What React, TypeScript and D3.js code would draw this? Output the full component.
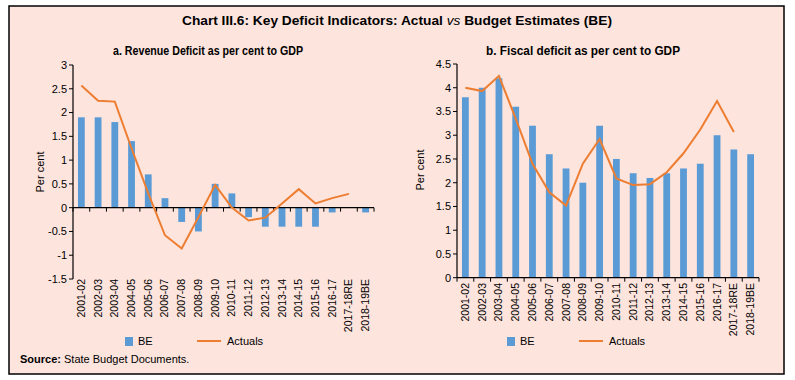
import React from "react";
import * as d3 from "d3";

const categories = [
  "2001-02", "2002-03", "2003-04", "2004-05", "2005-06", "2006-07", "2007-08", "2008-09", "2009-10",
  "2010-11", "2011-12", "2012-13", "2013-14", "2014-15", "2015-16", "2016-17", "2017-18RE", "2018-19BE",
];

const revenueBE: (number | null)[] = [1.9, 1.9, 1.8, 1.4, 0.7, 0.2, -0.3, -0.5, 0.5, 0.3, -0.2, -0.4, -0.4, -0.4, -0.4, -0.1, null, -0.1];
const revenueActual: (number | null)[] = [2.57, 2.25, 2.23, 1.25, 0.3, -0.58, -0.86, -0.2, 0.48, 0.0, -0.27, -0.21, 0.09, 0.39, 0.09, 0.2, 0.29, null];

const fiscalBE: (number | null)[] = [3.8, 4.0, 4.2, 3.6, 3.2, 2.6, 2.3, 2.0, 3.2, 2.5, 2.2, 2.1, 2.2, 2.3, 2.4, 3.0, 2.7, 2.6];
const fiscalActual: (number | null)[] = [4.0, 3.93, 4.25, 3.35, 2.4, 1.8, 1.52, 2.4, 2.92, 2.09, 1.95, 1.97, 2.22, 2.62, 3.12, 3.72, 3.07, null];

const revenueTicks = [3, 2.5, 2, 1.5, 1, 0.5, 0, -0.5, -1, -1.5];
const fiscalTicks = [4.5, 4, 3.5, 3, 2.5, 2, 1.5, 1, 0.5, 0];

const FONT = "'Liberation Sans', Arial, Helvetica, sans-serif";
const BAR = "#5b9bd5";
const LINE = "#ed7d31";
const BG = "#fde4dd";

type PanelProps = {
  x0: number; x1: number; yTop: number; yBot: number;
  domain: [number, number];
  ticks: number[];
  be: (number | null)[];
  actual: (number | null)[];
  labelTop: number;
  yLabelX: number; yLabelY: number;
  title: string; titleX: number; titleW: number;
  legendX: number;
};

function Panel(p: PanelProps) {
  const x = d3.scaleBand<string>().domain(categories).range([p.x0, p.x1]).paddingInner(0).paddingOuter(0);
  const y = d3.scaleLinear().domain(p.domain).range([p.yBot, p.yTop]);
  const bw = 6.8;
  const zeroY = y(0);
  const line = d3.line<[number, number | null]>()
    .defined((d) => d[1] !== null)
    .x((d) => d[0])
    .y((d) => y(d[1] as number));
  const pts: [number, number | null][] = categories.map((c, i) => [(x(c) as number) + x.bandwidth() / 2, p.actual[i]]);
  const boundaries = d3.range(categories.length + 1).map((i) => p.x0 + i * x.bandwidth());
  return (
    <g>
      <text x={p.titleX} y={55} textAnchor="middle" fontFamily={FONT} fontWeight="bold" fontSize={12}
        textLength={p.titleW} lengthAdjust="spacingAndGlyphs">{p.title}</text>
      {categories.map((c, i) => {
        const v = p.be[i];
        if (v === null) return null;
        const yy = y(Math.max(0, v));
        const h = Math.abs(y(v) - zeroY);
        return <rect key={c} x={(x(c) as number) + x.bandwidth() / 2 - bw / 2} y={yy} width={bw} height={h} fill={BAR} />;
      })}
      <line x1={p.x0} x2={p.x0} y1={p.yTop} y2={p.yBot} stroke="#000" strokeWidth={1.2} />
      {p.ticks.map((t) => (
        <g key={t}>
          <line x1={p.x0 - 4} x2={p.x0} y1={y(t)} y2={y(t)} stroke="#000" strokeWidth={1} />
          <text x={p.x0 - 6} y={y(t)} dy="0.35em" textAnchor="end" fontFamily={FONT} fontSize={11}>{String(t).replace("-", "-")}</text>
        </g>
      ))}
      <line x1={p.x0} x2={p.x1} y1={zeroY} y2={zeroY} stroke="#000" strokeWidth={1.2} />
      {boundaries.map((bx, i) => (
        <line key={i} x1={bx} x2={bx} y1={zeroY} y2={zeroY + 4} stroke="#000" strokeWidth={1} />
      ))}
      <path d={line(pts) ?? ""} fill="none" stroke={LINE} strokeWidth={2} />
      {categories.map((c) => {
        const cx = (x(c) as number) + x.bandwidth() / 2;
        return (
          <text key={c} transform={`translate(${cx + 3.5},${p.labelTop}) rotate(-90)`} textAnchor="end"
            fontFamily={FONT} fontSize={10.5}>{c}</text>
        );
      })}
      <text transform={`translate(${p.yLabelX},${p.yLabelY}) rotate(-90)`} textAnchor="middle" fontFamily={FONT} fontSize={11}>Per cent</text>
      <rect x={p.legendX} y={337} width={8} height={9} fill={BAR} />
      <text x={p.legendX + 13} y={345} fontFamily={FONT} fontSize={11}>BE</text>
      <line x1={p.legendX + 72} x2={p.legendX + 96} y1={341} y2={341} stroke={LINE} strokeWidth={2} />
      <text x={p.legendX + 102} y={345} fontFamily={FONT} fontSize={11}>Actuals</text>
    </g>
  );
}

export default function App() {
  return (
    <svg width={795} height={380} style={{ display: "block", position: "absolute", left: 0, top: 0 }}>
      <rect x={0} y={0} width={795} height={380} fill="#fff" />
      <rect x={9} y={6} width={775} height={368} fill={BG} stroke="#000" strokeWidth={1.5} />
      <text x={397} y={25} textAnchor="middle" fontFamily={FONT} fontWeight="bold" fontSize={13}
        textLength={430} lengthAdjust="spacingAndGlyphs">
        Chart III.6: Key Deficit Indicators: Actual <tspan fontStyle="italic" fontWeight="normal">vs</tspan> Budget Estimates (BE)
      </text>
      <Panel x0={73} x1={374} yTop={65} yBot={279} domain={[-1.5, 3]} ticks={revenueTicks}
        be={revenueBE} actual={revenueActual} labelTop={279} yLabelX={44} yLabelY={172}
        title="a. Revenue Deficit as per cent to GDP" titleX={208} titleW={190} legendX={125} />
      <Panel x0={457} x1={759} yTop={64} yBot={277.7} domain={[0, 4.5]} ticks={fiscalTicks}
        be={fiscalBE} actual={fiscalActual} labelTop={283} yLabelX={424} yLabelY={170}
        title="b. Fiscal deficit as per cent to GDP" titleX={583} titleW={194} legendX={507} />
      <text x={20} y={363} fontFamily={FONT} fontSize={11}>
        <tspan fontWeight="bold">Source:</tspan> State Budget Documents.
      </text>
    </svg>
  );
}
